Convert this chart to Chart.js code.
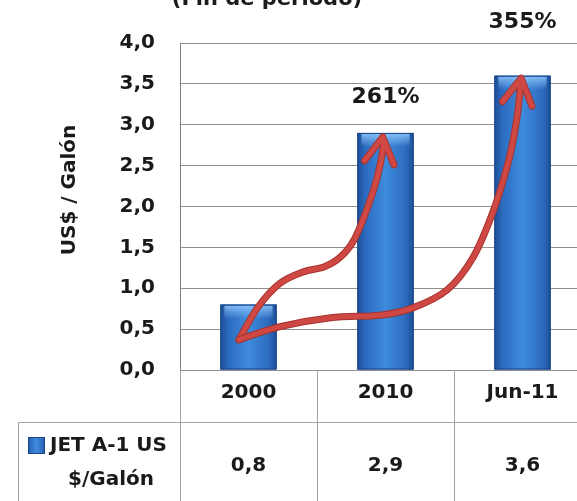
<!DOCTYPE html>
<html>
<head>
<meta charset="utf-8">
<script src="https://cdn.jsdelivr.net/npm/chart.js@4.4.0/dist/chart.umd.min.js"></script>
<style>
    html, body { margin: 0; padding: 0; background: #fff; overflow: hidden; }
    #wrap { width: 600px; height: 501px; }
</style>
</head>
<body>
<div id="wrap"><canvas id="jetFuelChart" width="600" height="501"></canvas></div>
<script>
const categories = ['2000', '2010', 'Jun-11'];
const jetPrices = [0.8, 2.9, 3.6];
const priceLabels = ['0,8', '2,9', '3,6'];
const growthLabels = ['', '261%', '355%'];
const seriesName = ['JET A-1 US', '$/Galón'];
const axisTitle = 'US$ / Galón';
const chartTitle = '(Fin de período)';

// hand drawn arrows, in data units: [category index, US$/galón]
const arrowToMid = [[-0.07, 0.37], [0.07, 0.77], [0.23, 1.06], [0.40, 1.20], [0.55, 1.26],
    [0.67, 1.38], [0.77, 1.59], [0.87, 1.99], [0.94, 2.36], [0.98, 2.69], [0.98, 2.85]];
const arrowToEnd = [[-0.07, 0.37], [0.23, 0.53], [0.60, 0.64], [0.96, 0.67], [1.20, 0.76],
    [1.45, 0.98], [1.64, 1.38], [1.79, 1.96], [1.90, 2.57], [1.96, 3.09], [1.99, 3.57]];

const theme = {
    text: '#1a1a1a',
    grid: '#8f8f8f',
    table: '#a3a3a3',
    barEdge: '#1d4f98',
    barMid: '#2d6cc0',
    barLight: '#3f8bdc',
    arrow: '#cf4843',
    arrowDark: '#a5332f',
};
const FONT = '"DejaVu Sans", sans-serif';

function barGradient(ctx, left, w) {
    const g = ctx.createLinearGradient(left, 0, left + w, 0);
    g.addColorStop(0, theme.barEdge);
    g.addColorStop(0.15, theme.barMid);
    g.addColorStop(0.5, theme.barLight);
    g.addColorStop(0.85, theme.barMid);
    g.addColorStop(1, theme.barEdge);
    return g;
}

function drawArrow(ctx, pts) {
    // catmull-rom through the points
    ctx.beginPath();
    ctx.moveTo(pts[0][0], pts[0][1]);
    for (let i = 0; i < pts.length - 1; i++) {
        const p0 = pts[i - 1] || pts[i], p1 = pts[i], p2 = pts[i + 1], p3 = pts[i + 2] || pts[i + 1];
        ctx.bezierCurveTo(
            p1[0] + (p2[0] - p0[0]) / 6, p1[1] + (p2[1] - p0[1]) / 6,
            p2[0] - (p3[0] - p1[0]) / 6, p2[1] - (p3[1] - p1[1]) / 6,
            p2[0], p2[1]);
    }
    const tip = pts[pts.length - 1], prev = pts[pts.length - 3];
    const ang = Math.atan2(prev[1] - tip[1], prev[0] - tip[0]);
    const len = 30, spread = 0.52;
    ctx.moveTo(tip[0] + len * Math.cos(ang + spread), tip[1] + len * Math.sin(ang + spread));
    ctx.lineTo(tip[0], tip[1]);
    ctx.lineTo(tip[0] + len * Math.cos(ang - spread), tip[1] + len * Math.sin(ang - spread));
    ctx.lineCap = 'round';
    ctx.lineJoin = 'round';
    ctx.strokeStyle = theme.arrowDark;
    ctx.lineWidth = 7;
    ctx.stroke();
    ctx.strokeStyle = theme.arrow;
    ctx.lineWidth = 5;
    ctx.stroke();
}

const overlayPlugin = {
    id: 'overlay',
    afterDatasetsDraw(chart) {
        const { ctx, scales: { x, y } } = chart;
        const meta = chart.getDatasetMeta(0);
        ctx.save();
        meta.data.forEach((bar) => {
            const left = bar.x - bar.width / 2, w = bar.width, top = bar.y, h = bar.base - bar.y;
            ctx.fillStyle = barGradient(ctx, left, w);
            ctx.fillRect(left, top, w, h);
            const cap = ctx.createLinearGradient(0, top, 0, top + 14);
            cap.addColorStop(0, 'rgba(150,205,255,0.85)');
            cap.addColorStop(1, 'rgba(150,205,255,0)');
            ctx.fillStyle = cap;
            ctx.fillRect(left + 4, top + 1, w - 8, 14);
            ctx.strokeStyle = '#1b4585';
            ctx.lineWidth = 1;
            ctx.strokeRect(left + 0.5, top + 0.5, w - 1, h - 1);
        });

        const toPx = (p) => [x.getPixelForValue(p[0]), y.getPixelForValue(p[1])];
        drawArrow(ctx, arrowToMid.map(toPx));
        drawArrow(ctx, arrowToEnd.map(toPx));

        // growth labels above the bars
        const lift = [0, 36, 53];
        ctx.fillStyle = theme.text;
        ctx.font = 'bold 22px ' + FONT;
        ctx.textAlign = 'center';
        ctx.textBaseline = 'middle';
        meta.data.forEach((bar, i) => {
            if (growthLabels[i]) ctx.fillText(growthLabels[i], bar.x, bar.y - lift[i]);
        });
        ctx.restore();
    },
    afterDraw(chart) {
        const { ctx, chartArea, scales: { x } } = chart;
        const cw = (chartArea.right - chartArea.left) / categories.length;
        const rowTop = chartArea.bottom;
        const rowMid = rowTop + 52;
        const bottom = chart.height;
        const tableLeft = 18;
        ctx.save();

        // clipped chart title at the top
        ctx.fillStyle = theme.text;
        ctx.font = 'bold 21px ' + FONT;
        ctx.textAlign = 'center';
        ctx.textBaseline = 'alphabetic';
        ctx.fillText(chartTitle, 267, 5);

        // y axis title
        ctx.save();
        ctx.translate(70, 190);
        ctx.rotate(-Math.PI / 2);
        ctx.font = 'bold 20px ' + FONT;
        ctx.textBaseline = 'middle';
        ctx.fillText(axisTitle, 0, 0);
        ctx.restore();

        // data table
        ctx.strokeStyle = theme.table;
        ctx.lineWidth = 1;
        ctx.beginPath();
        for (let k = 0; k <= categories.length; k++) {
            const lx = Math.round(chartArea.left + k * cw) + 0.5;
            ctx.moveTo(lx, rowTop);
            ctx.lineTo(lx, bottom);
        }
        ctx.moveTo(tableLeft, rowMid + 0.5);
        ctx.lineTo(chart.width, rowMid + 0.5);
        ctx.moveTo(tableLeft + 0.5, rowMid);
        ctx.lineTo(tableLeft + 0.5, bottom);
        ctx.stroke();

        ctx.fillStyle = theme.text;
        ctx.font = 'bold 20px ' + FONT;
        ctx.textAlign = 'center';
        ctx.textBaseline = 'middle';
        categories.forEach((c, i) => {
            const cx = x.getPixelForValue(i);
            ctx.fillText(c, cx, rowTop + 23);
            ctx.fillText(priceLabels[i], cx, rowMid + 44);
        });

        // legend key inside the table
        ctx.fillStyle = barGradient(ctx, 28, 17);
        ctx.fillRect(28, rowMid + 15, 17, 17);
        ctx.strokeStyle = '#1b4585';
        ctx.strokeRect(28.5, rowMid + 15.5, 16, 16);
        ctx.fillStyle = theme.text;
        ctx.textAlign = 'left';
        ctx.fillText(seriesName[0], 50, rowMid + 24);
        ctx.textAlign = 'center';
        ctx.fillText(seriesName[1], 111, rowMid + 58);
        ctx.restore();
    }
};

const ctx = document.getElementById('jetFuelChart').getContext('2d');
new Chart(ctx, {
    type: 'bar',
    data: {
        labels: categories,
        datasets: [{
            label: seriesName.join(' '),
            data: jetPrices,
            backgroundColor: theme.barMid,
            categoryPercentage: 1,
            barPercentage: 0.41,
        }]
    },
    options: {
        responsive: false,
        animation: false,
        layout: { padding: { left: 0, top: 43, right: 9, bottom: 131 } },
        scales: {
            x: { display: false },
            y: {
                min: 0,
                max: 4,
                afterFit: (scale) => { scale.width = 180; },
                grid: { color: theme.grid, drawTicks: false },
                border: { color: '#7f7f7f' },
                ticks: {
                    stepSize: 0.5,
                    padding: 25,
                    color: theme.text,
                    font: { family: FONT, size: 20, weight: 'bold' },
                    callback: (v) => v.toFixed(1).replace('.', ','),
                }
            }
        },
        plugins: {
            legend: { display: false },
            tooltip: { enabled: false }
        }
    },
    plugins: [overlayPlugin]
});
</script>
</body>
</html>
